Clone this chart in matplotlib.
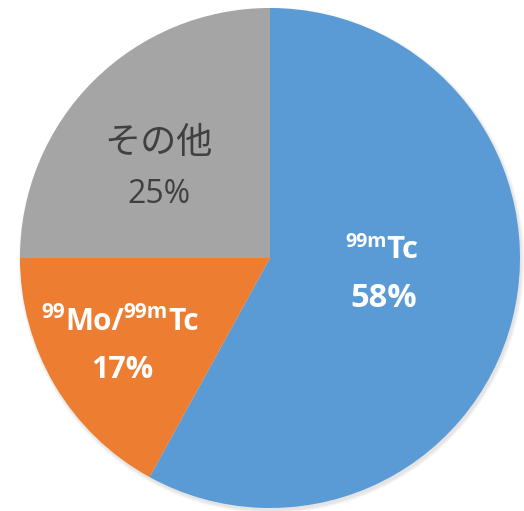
import matplotlib.pyplot as plt
from matplotlib.patches import Circle

plt.rcParams['font.family'] = ['Open Sans', 'Noto Sans CJK JP', 'DejaVu Sans']

# Share of nuclear medicine procedures by radionuclide
labels = ['99mTc', '99Mo/99mTc', 'その他']
shares = [58, 17, 25]
colors = ['#5B9BD5', '#ED7D31', '#A5A5A5']

fig = plt.figure(figsize=(5.24, 5.11), dpi=100)
ax = fig.add_axes([0, 0, 1, 1])

cx, cy, r = 270, 253, 250

# soft drop shadow under the pie
for i in range(6):
    ax.add_patch(Circle((cx + 1.5, cy - 2.5), r + 0.6 * i, color='#808080',
                        alpha=0.035, lw=0, zorder=0))

ax.pie(shares, colors=colors, startangle=90, counterclock=False,
       center=(cx, cy), radius=r, frame=True,
       wedgeprops=dict(linewidth=0, zorder=1))

ax.set_xlim(0, 524)
ax.set_ylim(0, 511)
ax.set_aspect('equal')
ax.axis('off')

renderer = fig.canvas.get_renderer()


def draw_runs(x, y, runs, color='white'):
    """Draw text runs (text, size, rise) side by side, centred on x, on baseline y."""
    texts = []
    for s, size, rise in runs:
        t = ax.text(0, y + rise, s, fontsize=size, fontweight='bold',
                    color=color, ha='left', va='baseline', zorder=3)
        texts.append(t)
    widths = [t.get_window_extent(renderer).width for t in texts]
    left = x - sum(widths) / 2
    for t, w in zip(texts, widths):
        t.set_x(left)
        left += w


# 99mTc
draw_runs(382, 253, [('99m', 14, 11), ('Tc', 22.5, 0)])
ax.text(384, 204, f'{shares[0]}%', ha='center', va='baseline',
        color='white', fontsize=23.5, fontweight='bold')

# 99Mo/99mTc
draw_runs(120, 181, [('99', 15, 12), ('Mo/', 21.5, 0), ('99m', 15, 12), ('Tc', 21.5, 0)])
ax.text(122, 133, f'{shares[1]}%', ha='center', va='baseline',
        color='white', fontsize=22, fontweight='bold')

# other
ax.text(158, 368, labels[2], ha='center', va='center', color='#404040',
        fontsize=26, family=['Noto Sans CJK JP', 'DejaVu Sans'])
ax.text(159, 308, f'{shares[2]}%', ha='center', va='baseline',
        color='#404040', fontsize=23)

fig.savefig('out.png', dpi=100)
